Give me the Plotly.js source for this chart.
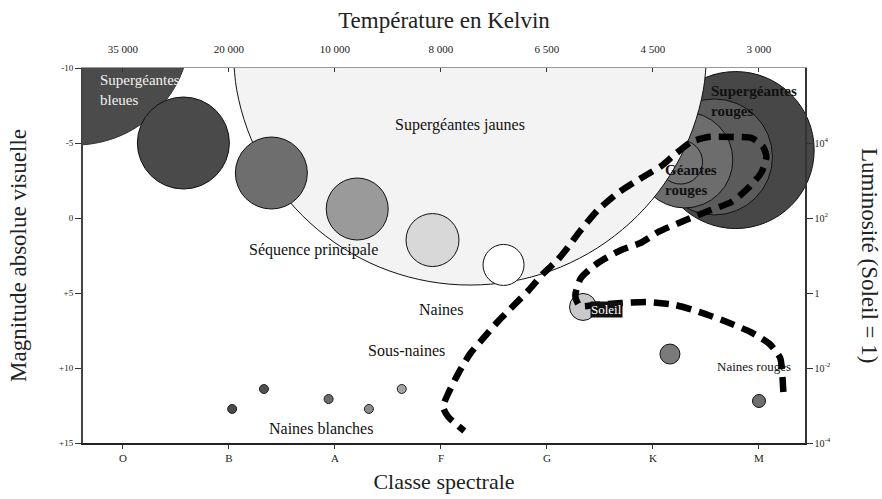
<!DOCTYPE html>
<html>
<head>
<meta charset="utf-8">
<script src="https://cdn.plot.ly/plotly-3.0.1.min.js"></script>
<style>html,body{margin:0;padding:0;background:#fff;}#chart{width:882px;height:499px;}</style>
</head>
<body>
<div id="chart"></div>
<script>
// Spectral classes (x index 0..6) and temperatures on the top axis
const classes = ["O", "B", "A", "F", "G", "K", "M"];
const classIdx = [0, 1, 2, 3, 4, 5, 6];
const temperatures = ["35 000", "20 000", "10 000", "8 000", "6 500", "4 500", "3 000"];

// Magnitude ticks (left) and luminosity ticks (right)
const magTicks = [-10, -5, 0, 5, 10, 15];
const magLabels = ["-10", "-5", "0", "+5", "+10", "+15"];
const lumTicks = [1e4, 1e2, 1, 1e-2, 1e-4];
const lumLabels = ["10<sup>4</sup>", "10<sup>2</sup>", "1", "10<sup>-2</sup>", "10<sup>-4</sup>"];

// Red supergiant / giant zones (class index, magnitude, diameter px, colour)
const redX = [5.78, 5.58, 5.30, 5.26];
const redMag = [-4.53, -4.07, -3.87, -3.73];
const redSize = [157, 116, 96, 44];
const redColor = ["#474747", "#5b5b5b", "#6d6d6d", "#747474"];

// Yellow supergiant zone outline (class index, magnitude)
const yellowZoneX = [5.510, 5.476, 5.375, 5.210, 4.987, 4.711, 4.392, 4.039, 3.662, 3.274, 2.886, 2.509, 2.156, 1.837, 1.561, 1.338, 1.173, 1.072, 1.038];
const yellowZoneMag = [-11.33, -8.587, -5.926, -3.43, -1.174, 0.773, 2.353, 3.517, 4.23, 4.47, 4.23, 3.517, 2.353, 0.773, -1.174, -3.43, -5.926, -8.587, -11.33];

// Blue supergiant zone outline (class index, magnitude)
const blueZoneX = [0.632, 0.616, 0.567, 0.487, 0.378, 0.244, 0.090, -0.082, -0.265, -0.453, -0.641, -0.824, -0.996, -1.538];
const blueZoneMag = [-12.53, -11.20, -9.908, -8.696, -7.602, -6.657, -5.890, -5.325, -4.980, -4.863, -4.980, -5.325, -5.890, -12.53];

// Main sequence stars
const msX = [0.57, 1.40, 2.21, 2.92, 3.59, 4.34, 5.16, 6.00];
const msMag = [-5.0, -3.0, -0.6, 1.47, 3.13, 5.93, 9.07, 12.2];
const msSize = [92, 72, 62, 53, 41, 27, 20, 13];
const msColor = ["#4a4a4a", "#6e6e6e", "#9a9a9a", "#d8d8d8", "#ffffff", "#c9c9c9", "#7a7a7a", "#6e6e6e"];

// White dwarfs
const wdX = [1.03, 1.33, 1.94, 2.32, 2.63];
const wdMag = [12.73, 11.4, 12.07, 12.73, 11.4];
const wdColor = ["#4a4a4a", "#505050", "#6c6c6c", "#8c8c8c", "#a4a4a4"];

// Evolutionary track (dashed)
const trackX = [6.23,6.22,6.20,6.10,5.92,5.65,5.44,5.21,4.95,4.70,4.45,4.31,4.27,4.27,4.32,4.48,4.70,4.88,5.05,5.31,5.52,5.74,5.88,6.02,6.07,6.04,5.93,5.76,5.52,5.36,5.20,5.08,4.89,4.67,4.48,4.32,4.20,4.10,3.97,3.83,3.69,3.55,3.41,3.28,3.17,3.07,3.02,3.07,3.22];
const trackMag = [11.6,10.47,9.33,8.4,7.6,6.8,6.27,5.8,5.6,5.67,5.8,5.87,5.33,5.0,4.0,3.0,2.13,1.67,0.93,0.13,-0.47,-1.07,-1.87,-3.0,-4.07,-4.73,-5.33,-5.4,-5.4,-5.07,-4.2,-3.47,-2.67,-1.67,-0.53,0.8,1.93,2.8,3.67,4.8,5.8,6.8,7.93,9.0,10.27,11.67,12.6,13.27,14.2];

const serif = "Liberation Serif, Times New Roman, serif";

const traces = [
  {type: "scatter", mode: "markers", x: redX, y: redMag, cliponaxis: false, hoverinfo: "skip",
   marker: {size: redSize, color: redColor, opacity: 1, line: {color: "#111", width: 1}}},
  {type: "scatter", mode: "lines", x: yellowZoneX, y: yellowZoneMag, fill: "toself", fillcolor: "#f3f3f3",
   hoverinfo: "skip", line: {color: "#111", width: 1, shape: "spline", smoothing: 1}},
  {type: "scatter", mode: "lines", x: blueZoneX, y: blueZoneMag, fill: "toself", fillcolor: "#4b4b4b",
   hoverinfo: "skip", line: {color: "#333", width: 1, shape: "spline", smoothing: 1}},
  {type: "scatter", mode: "markers", x: msX, y: msMag, cliponaxis: false, hoverinfo: "skip",
   marker: {size: msSize, color: msColor, opacity: 1, line: {color: "#111", width: 1}}},
  {type: "scatter", mode: "markers", x: wdX, y: wdMag, cliponaxis: false, hoverinfo: "skip",
   marker: {size: 9, color: wdColor, opacity: 1, line: {color: "#222", width: 1}}},
  {type: "scatter", mode: "lines", x: trackX, y: trackMag, hoverinfo: "skip",
   line: {color: "#000", width: 6.5, dash: "15px,8px", shape: "spline", smoothing: 0.6}},
  {type: "scatter", mode: "markers", x: [classIdx[0], classIdx[6]], y: [lumTicks[4], lumTicks[0]],
   xaxis: "x2", yaxis: "y2", hoverinfo: "skip", marker: {opacity: 0}}
];

function ann(x, y, text, opts) {
  return Object.assign({x: x, y: y, xref: "x", yref: "y", text: text, showarrow: false,
    font: {family: serif, size: 16, color: "#111"}}, opts || {});
}

const annotations = [
  ann(-0.24, -8.53, "Supergéantes<br>bleues", {xanchor: "left", align: "left", font: {family: serif, size: 15, color: "#f2f2f2"}}),
  ann(3.18, -6.2, "Supergéantes jaunes"),
  ann(1.80, 2.13, "Séquence principale"),
  ann(3.00, 6.13, "Naines"),
  ann(2.67, 8.8, "Sous-naines"),
  ann(1.87, 14.0, "Naines blanches"),
  ann(4.56, 6.13, "Soleil", {bgcolor: "#111", borderpad: 0, font: {family: serif, size: 13, color: "#ffffff"}}),
  ann(5.95, 9.87, "Naines rouges", {font: {family: serif, size: 13, color: "#111"}}),
  ann(5.09, -2.53, "<b>Géantes</b><br><b>rouges</b>", {xanchor: "left", align: "left", font: {family: serif, size: 15, color: "#111"}}),
  ann(5.53, -7.8, "<b>Supergéantes</b><br><b>rouges</b>", {xanchor: "left", align: "left", font: {family: serif, size: 15, color: "#111"}}),
  {x: 1, y: 0.5, xref: "paper", yref: "paper", xanchor: "left", yanchor: "middle", xshift: 50,
   text: "Luminosité (Soleil = 1)", textangle: 90, showarrow: false,
   font: {family: serif, size: 23, color: "#222"}}
];

const xr = [-0.377, 6.434];
const layout = {
  width: 882, height: 499,
  margin: {l: 83, r: 77, t: 68, b: 56},
  paper_bgcolor: "#fff", plot_bgcolor: "#fff",
  showlegend: false,
  font: {family: serif, color: "#222"},
  xaxis: {range: xr, tickvals: classIdx, ticktext: classes, ticks: "outside", ticklen: 4, tickcolor: "#333",
    showline: true, linecolor: "#222", linewidth: 2, showgrid: false, zeroline: false,
    tickfont: {family: serif, size: 11, color: "#222"},
    title: {text: "Classe spectrale", font: {family: serif, size: 22, color: "#222"}, standoff: 10}},
  xaxis2: {range: xr, overlaying: "x", side: "top", anchor: "y", tickvals: classIdx, ticktext: temperatures,
    ticks: "inside", ticklen: 4, tickcolor: "#333", showline: true, linecolor: "#999", linewidth: 1,
    ticklabelstandoff: 10,
    showgrid: false, zeroline: false, tickfont: {family: serif, size: 11, color: "#222"},
    title: {text: "Température en Kelvin", font: {family: serif, size: 23, color: "#222"}, standoff: 7}},
  yaxis: {range: [15, -10], tickvals: magTicks, ticktext: magLabels, ticks: "outside", ticklen: 6, tickcolor: "#333",
    showline: true, linecolor: "#444", linewidth: 2, showgrid: false, zeroline: false,
    tickfont: {family: serif, size: 9, color: "#222"},
    title: {text: "Magnitude absolue visuelle", font: {family: serif, size: 23, color: "#222"}, standoff: 26}},
  yaxis2: {type: "log", range: [-4, 6], overlaying: "y", side: "right", anchor: "x",
    tickvals: lumTicks, ticktext: lumLabels, ticks: "outside", ticklen: 6, tickcolor: "#333",
    showline: true, linecolor: "#333", linewidth: 1.5, showgrid: false, zeroline: false,
    tickfont: {family: serif, size: 10, color: "#222"}},
  annotations: annotations
};

Plotly.newPlot("chart", traces, layout, {displayModeBar: false, staticPlot: true});
</script>
</body>
</html>
